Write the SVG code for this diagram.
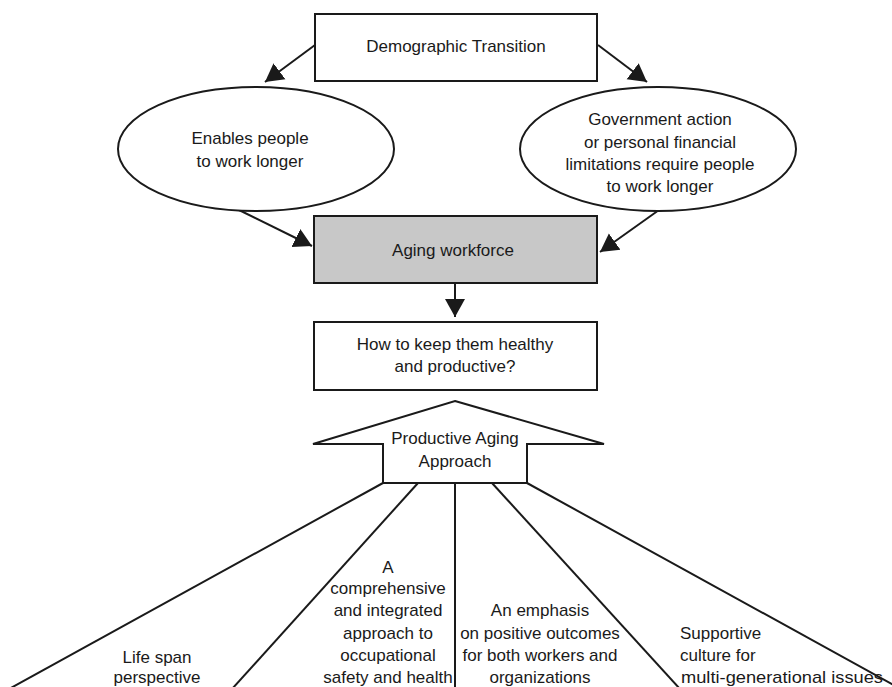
<svg xmlns="http://www.w3.org/2000/svg" width="892" height="687" viewBox="0 0 892 687">
<style>
  .box { fill: #ffffff; stroke: #1a1a1a; stroke-width: 2; }
  .grey { fill: #c8c8c8; stroke: #1a1a1a; stroke-width: 2; }
  .t { font-family: "Liberation Sans", Arial, sans-serif; font-size: 17px; fill: #1a1a1a; text-anchor: middle; }
  .tl { text-anchor: start; }
  .edge { stroke: #1a1a1a; stroke-width: 2; fill: none; }
  .arr { marker-end: url(#head); }
</style>
<defs>
  <marker id="head" markerUnits="userSpaceOnUse" markerWidth="20" markerHeight="22" viewBox="0 0 20 22" refX="18" refY="11" orient="auto">
    <path d="M0,1 L18,11 L0,21 Z" fill="#1a1a1a"/>
  </marker>
</defs>
<rect width="892" height="687" fill="#ffffff"/>

<g id="connectors">
  <line class="edge arr" x1="315" y1="45" x2="265" y2="82"/>
  <line class="edge arr" x1="598" y1="45" x2="647" y2="82"/>
  <line class="edge arr" x1="239" y1="210" x2="312" y2="246"/>
  <line class="edge arr" x1="659" y1="210" x2="600" y2="252"/>
  <line class="edge arr" x1="455" y1="283" x2="455" y2="317"/>
  <line class="edge" x1="383" y1="483" x2="9" y2="689"/>
  <line class="edge" x1="418" y1="483" x2="232" y2="689"/>
  <line class="edge" x1="455" y1="483" x2="455" y2="689"/>
  <line class="edge" x1="492" y1="483" x2="680" y2="689"/>
  <line class="edge" x1="527" y1="483" x2="901" y2="689"/>
</g>

<g id="demographic">
  <rect class="box" x="315" y="14" width="282" height="67"/>
  <text class="t" x="456" y="52">Demographic Transition</text>
</g>

<g id="enables">
  <ellipse class="box" cx="256" cy="149" rx="138" ry="62"/>
  <text class="t" x="250" y="144">Enables people</text>
  <text class="t" x="250" y="167">to work longer</text>
</g>

<g id="government">
  <ellipse class="box" cx="658" cy="149" rx="138" ry="62"/>
  <text class="t" x="660" y="125">Government action</text>
  <text class="t" x="660" y="148">or personal financial</text>
  <text class="t" x="660" y="170">limitations require people</text>
  <text class="t" x="660" y="192">to work longer</text>
</g>

<g id="aging">
  <rect class="grey" x="314" y="216" width="283" height="67"/>
  <text class="t" x="453" y="256">Aging workforce</text>
</g>

<g id="how">
  <rect class="box" x="314" y="322" width="283" height="68"/>
  <text class="t" x="455" y="350">How to keep them healthy</text>
  <text class="t" x="455" y="372">and productive?</text>
</g>

<g id="approach">
  <polygon class="box" points="455,401 604,444 527,444 527,483 383,483 383,444 313,444"/>
  <text class="t" x="455" y="444">Productive Aging</text>
  <text class="t" x="455" y="467">Approach</text>
</g>

<g id="lifespan">
  <text class="t" x="157" y="663">Life span</text>
  <text class="t" x="157" y="683">perspective</text>
</g>

<g id="comprehensive">
  <text class="t" x="388" y="573">A</text>
  <text class="t" x="388" y="594">comprehensive</text>
  <text class="t" x="388" y="616">and integrated</text>
  <text class="t" x="388" y="639">approach to</text>
  <text class="t" x="388" y="661">occupational</text>
  <text class="t" x="388" y="683">safety and health</text>
</g>

<g id="emphasis">
  <text class="t" x="540" y="616">An emphasis</text>
  <text class="t" x="540" y="639">on positive outcomes</text>
  <text class="t" x="540" y="661">for both workers and</text>
  <text class="t" x="540" y="683">organizations</text>
</g>

<g id="supportive">
  <text class="t tl" x="680" y="639">Supportive</text>
  <text class="t tl" x="680" y="661">culture for</text>
  <text class="t tl" x="681" y="683" textLength="202" lengthAdjust="spacingAndGlyphs">multi-generational issues</text>
</g>
</svg>
